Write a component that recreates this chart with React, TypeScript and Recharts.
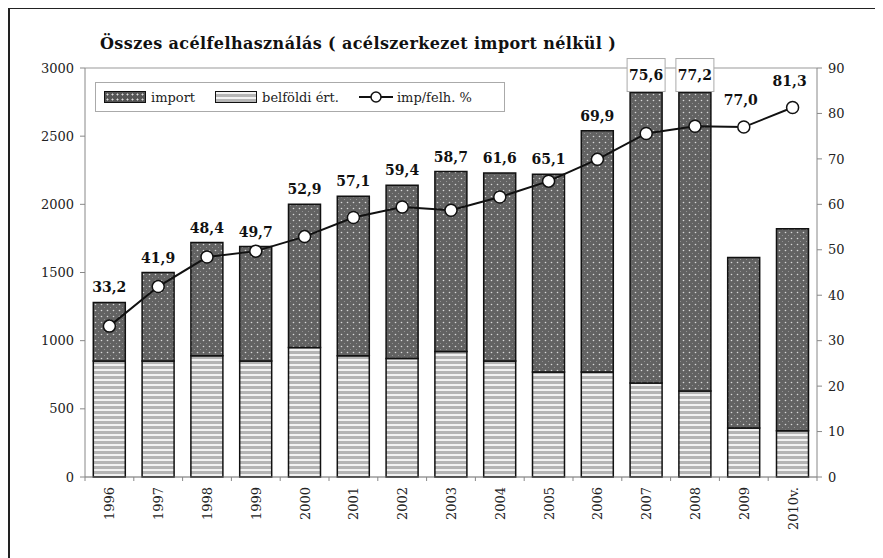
import React from "react";
import {
  ComposedChart,
  Bar,
  Line,
  XAxis,
  YAxis,
  LabelList,
  ReferenceLine,
} from "recharts";

// Years on the category axis; the last one is an estimate ("v." = várható).
const YEARS = [
  "1996", "1997", "1998", "1999", "2000", "2001", "2002", "2003",
  "2004", "2005", "2006", "2007", "2008", "2009", "2010v.",
];
// Domestic steel use (lower stack) and import (upper stack), kt.
const BELFOLDI = [850, 850, 890, 850, 950, 890, 870, 920, 850, 770, 770, 690, 630, 360, 340];
const IMPORT = [430, 650, 830, 840, 1050, 1170, 1270, 1320, 1380, 1450, 1770, 2130, 2190, 1250, 1480];
// Import share of total use, %.
const IMP_PCT = [33.2, 41.9, 48.4, 49.7, 52.9, 57.1, 59.4, 58.7, 61.6, 65.1, 69.9, 75.6, 77.2, 77.0, 81.3];
// Labels that sit in a little box above the tallest bars.
const BOXED = ["2007", "2008"];

const LEFT_TICKS = [0, 500, 1000, 1500, 2000, 2500, 3000];
const RIGHT_TICKS = [0, 10, 20, 30, 40, 50, 60, 70, 80, 90];
const LEFT_MAX = 3000;
const RIGHT_MAX = 90;

const FONT = "'DejaVu Serif', 'Liberation Serif', serif";

const data = YEARS.map((year, i) => ({
  year,
  belfoldi: BELFOLDI[i],
  import: IMPORT[i],
  pct: IMP_PCT[i],
}));

const fmt = (v: number) => v.toFixed(1).replace(".", ",");

// bar top is above the line point -> label goes on the bar, else on the point
const labelOnBar = (i: number) =>
  (BELFOLDI[i] + IMPORT[i]) / LEFT_MAX > IMP_PCT[i] / RIGHT_MAX;

function BarLabel(props: any) {
  const { x, y, width, index } = props;
  if (!labelOnBar(index)) return null;
  const cx = x + width / 2;
  const text = fmt(IMP_PCT[index]);
  if (BOXED.includes(YEARS[index])) {
    return (
      <g>
        <rect x={cx - 19} y={y - 34} width={38} height={33} fill="#fff" stroke="#aaa" strokeWidth={1} />
        <text x={cx} y={y - 13} textAnchor="middle" fontFamily={FONT} fontWeight="bold" fontSize={14} fill="#111">
          {text}
        </text>
      </g>
    );
  }
  return (
    <text x={cx} y={y - 10} textAnchor="middle" fontFamily={FONT} fontWeight="bold" fontSize={14} fill="#111">
      {text}
    </text>
  );
}

function LineLabel(props: any) {
  const { x, y, index } = props;
  if (labelOnBar(index)) return null;
  return (
    <text x={x - 3} y={y - 22} textAnchor="middle" fontFamily={FONT} fontWeight="bold" fontSize={14} fill="#111">
      {fmt(IMP_PCT[index])}
    </text>
  );
}

// rotated year label plus a small tick mark on the category boundary
function YearTick(props: any) {
  const { x, y, payload, index, width, visibleTicksCount } = props;
  const half = width / (visibleTicksCount || YEARS.length) / 2;
  const ok = Number.isFinite(half);
  return (
    <g>
      {ok && <line x1={x + half} y1={y} x2={x + half} y2={y + 4} stroke="#888" />}
      {ok && index === 0 && <line x1={x - half} y1={y} x2={x - half} y2={y + 4} stroke="#888" />}
      <text
        x={x}
        y={y}
        transform={`rotate(-90, ${x}, ${y})`}
        dx={-10}
        dy={5}
        textAnchor="end"
        fontFamily={FONT}
        fontSize={13}
        fill="#222"
      >
        {payload.value}
      </text>
    </g>
  );
}

function LegendBox() {
  const item = { display: "flex", alignItems: "center", marginRight: 20 } as const;
  const swatch = { width: 40, height: 10, border: "1.5px solid #111", marginRight: 5 } as const;
  return (
    <div
      style={{
        position: "absolute",
        left: 85,
        top: 73,
        width: 410,
        height: 30,
        border: "1px solid #aaa",
        display: "flex",
        alignItems: "center",
        paddingLeft: 8,
        boxSizing: "border-box",
        fontFamily: FONT,
        fontSize: 13,
        color: "#222",
        background: "#fff",
      }}
    >
      <span style={item}>
        <span
          style={{
            ...swatch,
            background: "radial-gradient(circle, #ddd 0.8px, transparent 1.2px) 0 0 / 5px 5px, #555",
          }}
        />
        import
      </span>
      <span style={item}>
        <span
          style={{
            ...swatch,
            background: "repeating-linear-gradient(#f2f2f2 0 2px, #b5b5b5 2px 5px)",
          }}
        />
        belföldi ért.
      </span>
      <span style={item}>
        <svg width={34} height={14} style={{ marginRight: 4 }}>
          <line x1={0} y1={7} x2={34} y2={7} stroke="#111" strokeWidth={2} />
          <circle cx={17} cy={7} r={5} fill="#fff" stroke="#111" strokeWidth={1.5} />
        </svg>
        imp/felh. %
      </span>
    </div>
  );
}

export default function App() {
  return (
    <div
      style={{
        position: "relative",
        width: 869,
        height: 553,
        borderTop: "2px solid #222",
        borderLeft: "2px solid #222",
        borderRight: "2px solid #222",
        boxSizing: "border-box",
        marginTop: -1,
        background: "#fff",
      }}
    >
      <div
        style={{
          position: "absolute",
          left: 90,
          top: 25,
          fontFamily: FONT,
          fontWeight: "bold",
          fontSize: 16,
          letterSpacing: 0.4,
          color: "#111",
          whiteSpace: "nowrap",
        }}
      >
        Összes acélfelhasználás ( acélszerkezet import nélkül )
      </div>
      <ComposedChart
        width={865}
        height={549}
        data={data}
        margin={{ top: 59, right: 13, bottom: 11, left: 15 }}
        barCategoryGap="17%"
      >
        <defs>
          <pattern id="impPat" width={6} height={6} patternUnits="userSpaceOnUse">
            <rect width={6} height={6} fill="#626262" />
            <circle cx={1.5} cy={1.5} r={0.8} fill="#d8d8d8" />
            <circle cx={4.5} cy={4.5} r={0.6} fill="#9a9a9a" />
          </pattern>
          <pattern id="belPat" width={6} height={5} patternUnits="userSpaceOnUse">
            <rect width={6} height={5} fill="#b4b4b4" />
            <rect width={6} height={2} fill="#f2f2f2" />
          </pattern>
        </defs>
        <XAxis
          dataKey="year"
          tick={<YearTick />}
          tickLine={false}
          tickSize={0}
          tickMargin={0}
          axisLine={{ stroke: "#666" }}
          height={70}
          interval={0}
        />
        <YAxis
          yAxisId="left"
          domain={[0, LEFT_MAX]}
          ticks={LEFT_TICKS}
          width={60}
          tickSize={5}
          tickMargin={6}
          axisLine={{ stroke: "#888" }}
          tickLine={{ stroke: "#888" }}
          tick={{ fontSize: 13, fontFamily: FONT, fill: "#222" }}
        />
        <YAxis
          yAxisId="right"
          orientation="right"
          domain={[0, RIGHT_MAX]}
          ticks={RIGHT_TICKS}
          width={45}
          tickSize={5}
          tickMargin={6}
          axisLine={{ stroke: "#888" }}
          tickLine={{ stroke: "#888" }}
          tick={{ fontSize: 13, fontFamily: FONT, fill: "#222", textAnchor: "start" }}
        />
        <ReferenceLine yAxisId="left" y={LEFT_MAX} stroke="#999" strokeWidth={1} />
        <Bar
          yAxisId="left"
          dataKey="belfoldi"
          name="belföldi ért."
          stackId="a"
          fill="url(#belPat)"
          stroke="#111"
          strokeWidth={1.5}
          isAnimationActive={false}
        />
        <Bar
          yAxisId="left"
          dataKey="import"
          name="import"
          stackId="a"
          fill="url(#impPat)"
          stroke="#111"
          strokeWidth={1.5}
          isAnimationActive={false}
        >
          <LabelList dataKey="pct" content={<BarLabel />} />
        </Bar>
        <Line
          yAxisId="right"
          dataKey="pct"
          name="imp/felh. %"
          stroke="#111"
          strokeWidth={2}
          dot={{ r: 6, fill: "#fff", stroke: "#111", strokeWidth: 1.5 }}
          isAnimationActive={false}
        >
          <LabelList dataKey="pct" content={<LineLabel />} />
        </Line>
      </ComposedChart>
      <LegendBox />
    </div>
  );
}
